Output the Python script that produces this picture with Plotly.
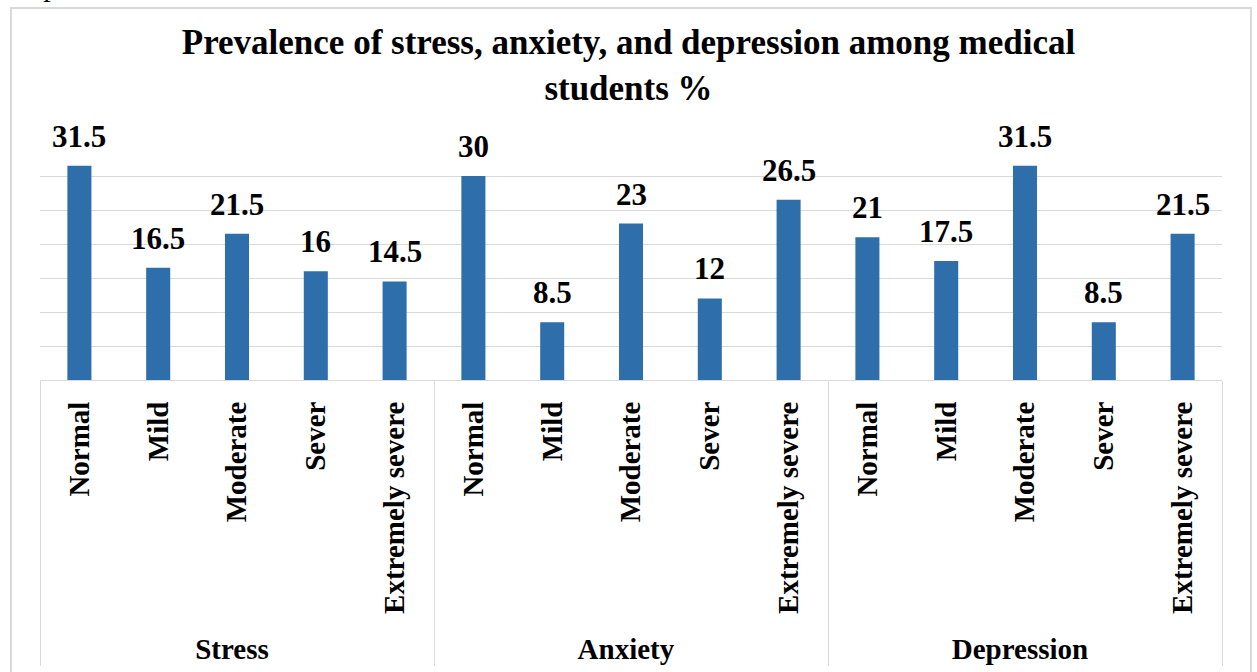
import plotly.graph_objects as go

groups = ["Stress", "Anxiety", "Depression"]
levels = ["Normal", "Mild", "Moderate", "Sever", "Extremely severe"]
stress = [31.5, 16.5, 21.5, 16, 14.5]
anxiety = [30, 8.5, 23, 12, 26.5]
depression = [21, 17.5, 31.5, 8.5, 21.5]
title_text = "Prevalence of stress, anxiety, and depression among medical<br>students %"

values = stress + anxiety + depression
x_outer = [g for g in groups for _ in levels]
x_inner = levels * len(groups)

W, H = 1257, 672
ML, MR, MT, MB = 40, 35, 142, 292
PW, PH = W - ML - MR, H - MT - MB

SERIF = "Liberation Serif, Times New Roman, serif"
BAR = "#2E6EAB"
GRID = "#D9D9D9"

fig = go.Figure(go.Bar(
    x=[x_outer, x_inner], y=values,
    marker=dict(color=BAR, line=dict(width=0)),
    hoverinfo="x+y",
))

ann = []
for i, v in enumerate(values):
    ann.append(dict(
        x=i, y=v, xref="x", yref="y", text=f"<b>{v:g}</b>", showarrow=False,
        yanchor="bottom", yshift=10,
        font=dict(family=SERIF, size=31, color="#000000"),
    ))

# fragment of preceding document text, cut by the page top
ann.append(dict(
    x=(13 - ML) / PW, y=(H - MB - 4) / PH, xref="paper", yref="paper",
    xanchor="left", yanchor="bottom", showarrow=False, text="depression.",
    font=dict(family=SERIF, size=30, color="#000000"),
))

fig.update_layout(
    width=W, height=H,
    margin=dict(l=ML, r=MR, t=MT, b=MB, pad=0, autoexpand=False),
    paper_bgcolor="white", plot_bgcolor="white",
    bargap=0.695,
    showlegend=False,
    title=dict(
        text=f"<b>{title_text}</b>", x=0.5, xanchor="center",
        y=1 - 54 / H, yanchor="top",
        font=dict(family=SERIF, size=35, color="#000000"),
    ),
    annotations=ann,
    xaxis=dict(
        type="multicategory", tickangle=-90, automargin=False,
        tickfont=dict(family=SERIF, size=29, color="#000000", weight="bold"),
        showline=True, linecolor=GRID, linewidth=1,
        showdividers=True, dividercolor=GRID, dividerwidth=1,
        ticks="", ticklabelstandoff=9,
        showgrid=False,
    ),
    yaxis=dict(
        range=[0, 35], dtick=5, showticklabels=False, automargin=False,
        showgrid=True, gridcolor=GRID, gridwidth=1,
        zeroline=False, ticks="",
    ),
    shapes=[dict(
        type="rect", xref="paper", yref="paper",
        x0=(11 - ML) / PW, x1=(1251 - ML) / PW,
        y0=-3, y1=(H - MB - 8) / PH,
        line=dict(color=GRID, width=2), fillcolor="rgba(0,0,0,0)", layer="below",
    )],
)

fig.write_html("out.html")
